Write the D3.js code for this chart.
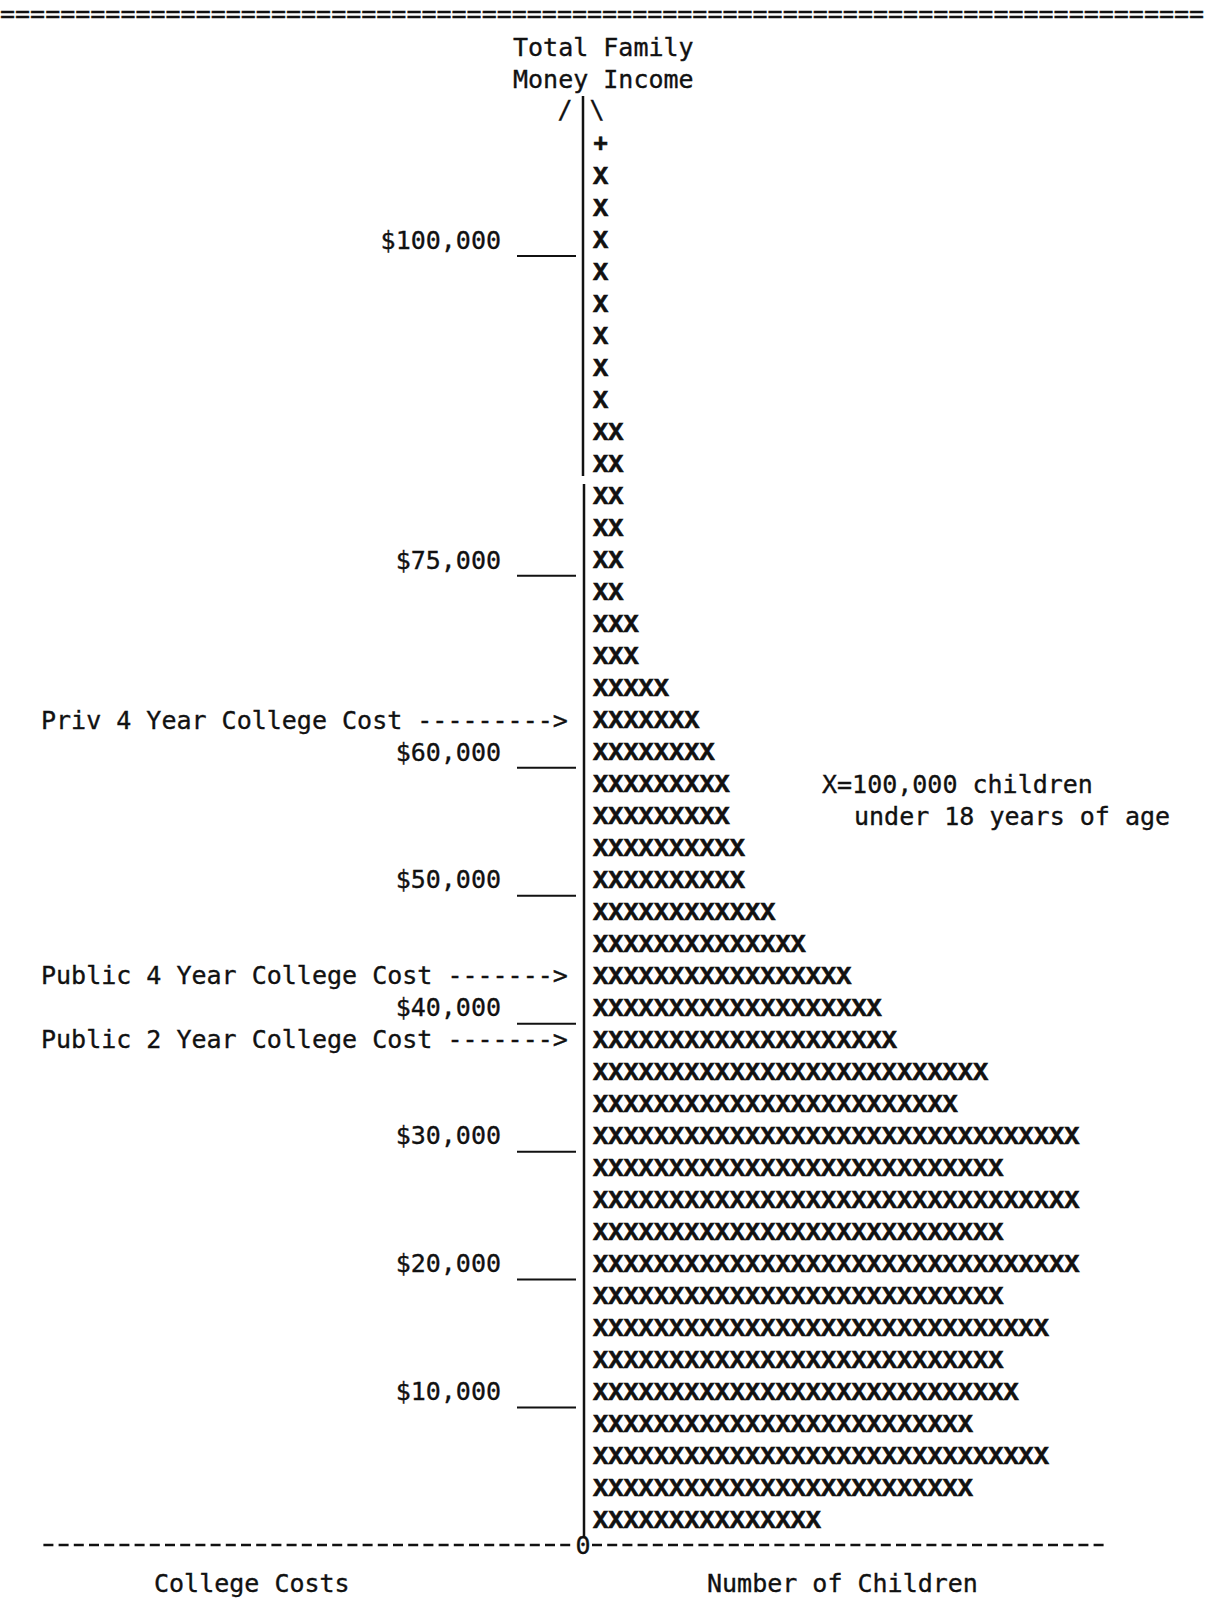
<!DOCTYPE html>
<html>
<head>
<meta charset="utf-8">
<script src="https://cdn.jsdelivr.net/npm/d3@7"></script>
<style>
  html, body { margin: 0; padding: 0; background: #fff; }
  svg { display: block; }
  .mono { font-family: "DejaVu Sans Mono", monospace; font-size: 25px; fill: #111; stroke: #111; stroke-width: 0.35px; }
  .xs { font-family: "Liberation Mono", monospace; font-weight: bold; font-size: 25.3px; fill: #111; stroke: #111; stroke-width: 0.6px; }
</style>
</head>
<body>
<svg width="1208" height="1612"></svg>
<script>
// income brackets (lower bound, $2,500 wide), bottom to top
const incomeLow = [0, 2500, 5000, 7500, 10000, 12500, 15000, 17500, 20000, 22500,
  25000, 27500, 30000, 32500, 35000, 37500, 40000, 42500, 45000, 47500,
  50000, 52500, 55000, 57500, 60000, 62500, 65000, 67500, 70000, 72500,
  75000, 77500, 80000, 82500, 85000, 87500, 90000, 92500, 95000, 97500,
  100000, 102500, 105000, 107500]

// children under 18, in units of 100,000 (one X each); last one printed as "+"
const childrenX = [15, 25, 30, 25, 28, 27, 30, 27, 32, 27,
  32, 27, 32, 24, 26, 20, 19, 17, 14, 12,
  10, 10, 9, 9, 8, 7, 5, 3, 3, 2,
  2, 2, 2, 2, 2, 1, 1, 1, 1, 1,
  1, 1, 1, 0.4]

const tickValues = [10000, 20000, 30000, 40000, 50000, 60000, 75000, 100000]

const costLabels = ['Priv 4 Year College Cost', 'Public 4 Year College Cost', 'Public 2 Year College Cost']
const costIncome = [62500, 42500, 37500]
const costArrows = ['--------->', '------->', '------->']

const svg = d3.select('svg')
const pitch = 15.2
const axisX = 583

const y = d3.scaleBand()
  .domain(incomeLow)
  .range([1535.5, 128])
  .padding(0)

const x = d3.scaleLinear()
  .domain([0, 34])
  .range([593, 593 + 34 * pitch])

const rowMid = v => y(v) + y.bandwidth() / 2
const fmt = d3.format('$,')

// top rule
svg.append('text').attr('class', 'mono')
  .attr('x', 0).attr('y', 22)
  .text('='.repeat(80))

// titles
svg.append('text').attr('class', 'mono').attr('x', 513).attr('y', 56).text('Total Family')
svg.append('text').attr('class', 'mono').attr('x', 513).attr('y', 88).text('Money Income')
svg.append('text').attr('class', 'mono').attr('x', 565).attr('y', 118).attr('text-anchor', 'middle').text('/')
svg.append('text').attr('class', 'mono').attr('x', 597).attr('y', 118).attr('text-anchor', 'middle').text('\\')

// vertical axis (typed in two pieces, small gap as in the original)
svg.append('line')
  .attr('x1', axisX).attr('x2', axisX)
  .attr('y1', 96).attr('y2', 476)
  .attr('stroke', '#111').attr('stroke-width', 2.5)
svg.append('line')
  .attr('x1', axisX + 1).attr('x2', axisX + 1)
  .attr('y1', 484).attr('y2', 1537)
  .attr('stroke', '#111').attr('stroke-width', 2.5)

// income ticks
const ticks = svg.append('g')
ticks.selectAll('line').data(tickValues).join('line')
  .attr('x1', 517).attr('x2', 576)
  .attr('y1', d => y(d) + y.bandwidth())
  .attr('y2', d => y(d) + y.bandwidth())
  .attr('stroke', '#111').attr('stroke-width', 2)
ticks.selectAll('text').data(tickValues).join('text')
  .attr('class', 'mono')
  .attr('text-anchor', 'end')
  .attr('x', 501)
  .attr('y', d => rowMid(d))
  .attr('dy', '0.35em')
  .text(d => fmt(d))

// college cost arrows
svg.append('g').selectAll('text').data(costLabels).join('text')
  .attr('class', 'mono')
  .attr('x', 41)
  .attr('y', (d, i) => rowMid(costIncome[i]))
  .attr('dy', '0.35em')
  .attr('xml:space', 'preserve')
  .text((d, i) => d + ' ' + costArrows[i])

// rows of X
const rows = svg.append('g').selectAll('g')
  .data(incomeLow.map((v, i) => ({ income: v, n: childrenX[i] })))
  .join('g')
  .attr('transform', d => `translate(0,${rowMid(d.income)})`)

rows.selectAll('text')
  .data(d => d.n < 1 ? [{ ch: '+', i: 0 }] : d3.range(Math.floor(d.n)).map(i => ({ ch: 'X', i })))
  .join('text')
  .attr('class', 'xs')
  .attr('x', d => x(d.i))
  .attr('dy', '0.33em')
  .text(d => d.ch)

// legend
svg.append('text').attr('class', 'mono').attr('x', 822).attr('y', rowMid(57500)).attr('dy', '0.35em').text('X=100,000 children')
svg.append('text').attr('class', 'mono').attr('x', 854).attr('y', rowMid(55000)).attr('dy', '0.35em').text('under 18 years of age')

// bottom rule: typed dashes with a 0 at the axis
const ruleY = 1545
svg.append('line')
  .attr('x1', axisX - 35.5 * pitch).attr('x2', axisX - 8)
  .attr('y1', ruleY).attr('y2', ruleY)
  .attr('stroke', '#111').attr('stroke-width', 2.5)
  .attr('stroke-dasharray', '10,5.2')
svg.append('line')
  .attr('x1', axisX + 9).attr('x2', axisX + 9 + 34 * pitch)
  .attr('y1', ruleY).attr('y2', ruleY)
  .attr('stroke', '#111').attr('stroke-width', 2.5)
  .attr('stroke-dasharray', '10,5.2')
svg.append('text').attr('class', 'mono')
  .attr('x', axisX).attr('y', ruleY + 9)
  .attr('text-anchor', 'middle')
  .text('0')

svg.append('text').attr('class', 'mono').attr('x', 154).attr('y', 1592).text('College Costs')
svg.append('text').attr('class', 'mono').attr('x', 707).attr('y', 1592).text('Number of Children')
</script>
</body>
</html>
